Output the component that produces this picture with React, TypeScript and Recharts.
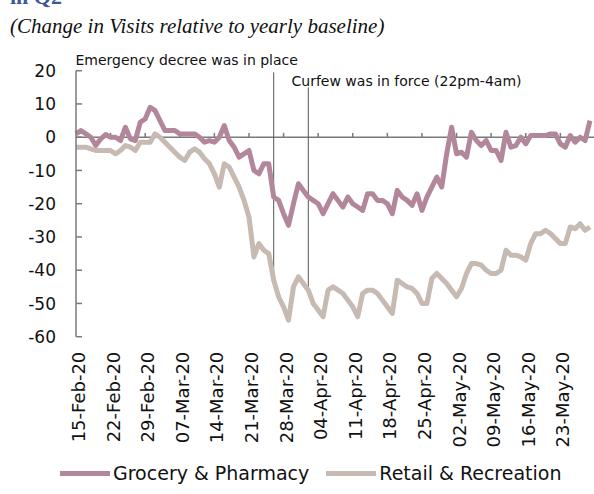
import { LineChart, Line, XAxis, YAxis, ReferenceLine, Legend } from 'recharts'

const dates = [
  '15-Feb-20', '16-Feb-20', '17-Feb-20', '18-Feb-20', '19-Feb-20', '20-Feb-20', '21-Feb-20',
  '22-Feb-20', '23-Feb-20', '24-Feb-20', '25-Feb-20', '26-Feb-20', '27-Feb-20', '28-Feb-20',
  '29-Feb-20', '01-Mar-20', '02-Mar-20', '03-Mar-20', '04-Mar-20', '05-Mar-20', '06-Mar-20',
  '07-Mar-20', '08-Mar-20', '09-Mar-20', '10-Mar-20', '11-Mar-20', '12-Mar-20', '13-Mar-20',
  '14-Mar-20', '15-Mar-20', '16-Mar-20', '17-Mar-20', '18-Mar-20', '19-Mar-20', '20-Mar-20',
  '21-Mar-20', '22-Mar-20', '23-Mar-20', '24-Mar-20', '25-Mar-20', '26-Mar-20', '27-Mar-20',
  '28-Mar-20', '29-Mar-20', '30-Mar-20', '31-Mar-20', '01-Apr-20', '02-Apr-20', '03-Apr-20',
  '04-Apr-20', '05-Apr-20', '06-Apr-20', '07-Apr-20', '08-Apr-20', '09-Apr-20', '10-Apr-20',
  '11-Apr-20', '12-Apr-20', '13-Apr-20', '14-Apr-20', '15-Apr-20', '16-Apr-20', '17-Apr-20',
  '18-Apr-20', '19-Apr-20', '20-Apr-20', '21-Apr-20', '22-Apr-20', '23-Apr-20', '24-Apr-20',
  '25-Apr-20', '26-Apr-20', '27-Apr-20', '28-Apr-20', '29-Apr-20', '30-Apr-20', '01-May-20',
  '02-May-20', '03-May-20', '04-May-20', '05-May-20', '06-May-20', '07-May-20', '08-May-20',
  '09-May-20', '10-May-20', '11-May-20', '12-May-20', '13-May-20', '14-May-20', '15-May-20',
  '16-May-20', '17-May-20', '18-May-20', '19-May-20', '20-May-20', '21-May-20', '22-May-20',
  '23-May-20', '24-May-20', '25-May-20', '26-May-20', '27-May-20', '28-May-20', '29-May-20',
]

const grocery = [
  1, 2, 1, 0, -2.5, -0.5, 0.8,
  0, 0, -1, 3, -0.5, -1, 4.5,
  5.5, 9, 8, 5, 2, 2, 2,
  1, 1, 1, 1, 0, -1.5, -1,
  -1.5, 0, 3.5, -1, -3, -6, -5,
  -4, -10, -11, -8, -8, -18, -19,
  -23, -26.5, -20, -14, -16, -18, -19,
  -20, -23, -20, -17, -19, -21, -18,
  -20, -21, -22, -17, -17, -19, -19,
  -20, -23, -16, -18, -19, -20.5, -17,
  -22, -18, -15, -12, -15, -5, 3,
  -5, -4.5, -6, 1.5, -1, -2.5, -1,
  -4, -4, -7, 1.5, -3, -2.5, 0,
  -2, 0.5, 0.5, 0.5, 0.5, 1, 1,
  -2, -3, 0.5, -1.5, 0, -1, 5,
]

const retail = [
  -3, -3, -3, -3.5, -4, -4, -4,
  -4, -5, -4, -2.5, -3, -4, -1.5,
  -1.5, -1.5, 1, 0, -1.5, -3, -4.5,
  -6, -7, -4.5, -3.5, -4.5, -6.5, -8,
  -11, -15, -8, -9, -12, -15, -19,
  -24, -36, -32, -34, -35, -43, -48,
  -51, -55, -45, -42, -44, -46, -50,
  -52, -54, -46, -45, -46, -47, -49,
  -51, -54, -47, -46, -46, -47, -49,
  -51, -53, -43, -44, -45, -45.5, -47,
  -50, -50, -42.5, -41, -42.5, -44, -46,
  -48, -45.5, -41, -38, -38, -38.5, -40,
  -41, -41, -40, -34, -35.5, -35.5, -36,
  -37, -32, -29, -29, -28, -29, -30.5,
  -32, -32, -27, -27.5, -26, -28, -27,
]

const dateTicks = [
  '15-Feb-20', '22-Feb-20', '29-Feb-20', '07-Mar-20', '14-Mar-20', '21-Mar-20', '28-Mar-20',
  '04-Apr-20', '11-Apr-20', '18-Apr-20', '25-Apr-20', '02-May-20', '09-May-20', '16-May-20',
  '23-May-20',
]
const valueTicks = [-60, -50, -40, -30, -20, -10, 0, 10, 20]
const seriesNames = ['Grocery & Pharmacy', 'Retail & Recreation']
const emergencyDate = '26-Mar-20'
const curfewDate = '02-Apr-20'

const rows = dates.map((date, i) => ({ date, grocery: grocery[i], retail: retail[i] }))

const FONT = '"DejaVu Sans", Verdana, sans-serif'
const AXIS = '#7a7a7a'
const GROCERY = '#b3879b'
const RETAIL = '#c6bab2'

function ValueTick({ x, y, payload }: any) {
  return (
    <g>
      {/* ticks sit inside the axis line */}
      <line x1={x + 20} x2={x + 26} y1={y} y2={y} stroke={AXIS} strokeWidth={1.5} />
      <text x={x} y={y} dy="0.36em" textAnchor="end" fontSize={17} fontFamily={FONT} fill="#111">
        {payload.value}
      </text>
    </g>
  )
}

function DateTick({ x, y, payload }: any) {
  return (
    <text
      x={x}
      y={y}
      dy={9}
      transform={`rotate(-90, ${x}, ${y})`}
      textAnchor="end"
      fontSize={18}
      fontFamily={FONT}
      fill="#111"
    >
      {payload.value}
    </text>
  )
}

function SeriesLegend({ payload }: any) {
  return (
    <div
      style={{
        height: 30,
        display: 'flex',
        alignItems: 'center',
        paddingLeft: 60,
        gap: 17,
        fontFamily: FONT,
        fontSize: 19,
        color: '#111',
      }}
    >
      {(payload || []).map((entry: any) => (
        <div key={entry.value} style={{ display: 'flex', alignItems: 'center', gap: 3 }}>
          <div style={{ width: 50, height: 5, background: entry.color }} />
          <span>{entry.value}</span>
        </div>
      ))}
    </div>
  )
}

export default function App() {
  return (
    <div style={{ position: 'absolute', left: 0, top: 0, width: 594, height: 494, overflow: 'hidden', background: '#fff' }}>
      <LineChart width={594} height={494} data={rows} margin={{ top: 70.7, right: 0, bottom: 0, left: 0 }}>
        <XAxis
          dataKey="date"
          ticks={dateTicks}
          interval={0}
          axisLine={false}
          tickLine={false}
          tickSize={0}
          tickMargin={15}
          height={127.3}
          padding={{ left: 0, right: 4 }}
          tick={<DateTick />}
        />
        <YAxis
          domain={[-60, 20]}
          ticks={valueTicks}
          width={76}
          axisLine={{ stroke: AXIS, strokeWidth: 1.5 }}
          tickLine={false}
          tickSize={0}
          tickMargin={20}
          tick={<ValueTick />}
        />
        <ReferenceLine y={0} stroke={AXIS} strokeWidth={1.5} />
        {dateTicks.slice(1).map((d) => (
          <ReferenceLine
            key={d}
            segment={[{ x: d, y: 0 }, { x: d, y: 1.3 }]}
            stroke={AXIS}
            strokeWidth={1.5}
          />
        ))}
        <ReferenceLine
          segment={[{ x: emergencyDate, y: 19.5 }, { x: emergencyDate, y: -43 }]}
          stroke="#555"
          strokeWidth={1}
        />
        <ReferenceLine
          segment={[{ x: curfewDate, y: 15 }, { x: curfewDate, y: -45 }]}
          stroke="#555"
          strokeWidth={1}
        />
        <Line
          dataKey="grocery"
          name={seriesNames[0]}
          type="linear"
          stroke={GROCERY}
          strokeWidth={5}
          strokeLinejoin="round"
          dot={false}
          isAnimationActive={false}
        />
        <Line
          dataKey="retail"
          name={seriesNames[1]}
          type="linear"
          stroke={RETAIL}
          strokeWidth={5}
          strokeLinejoin="round"
          dot={false}
          isAnimationActive={false}
        />
        <Legend
          verticalAlign="bottom"
          content={<SeriesLegend />}
          wrapperStyle={{ left: 0, bottom: 6, width: 594 }}
        />
      </LineChart>
      <svg
        width={594}
        height={494}
        style={{ position: 'absolute', left: 0, top: 0, pointerEvents: 'none' }}
      >
        <text x={10} y={4} fontFamily='"Liberation Serif", serif' fontWeight="bold" fontSize={22} fill="#3d5a98">
          in Q2
        </text>
        <text x={10} y={33} fontFamily='"Liberation Serif", serif' fontStyle="italic" fontSize={21} fill="#111">
          (Change in Visits relative to yearly baseline)
        </text>
        <text x={75.5} y={65} fontFamily={FONT} fontSize={14} fill="#111">
          Emergency decree was in place
        </text>
        <text x={291.5} y={86} fontFamily={FONT} fontSize={14} fill="#111">
          Curfew was in force (22pm-4am)
        </text>
      </svg>
    </div>
  )
}
